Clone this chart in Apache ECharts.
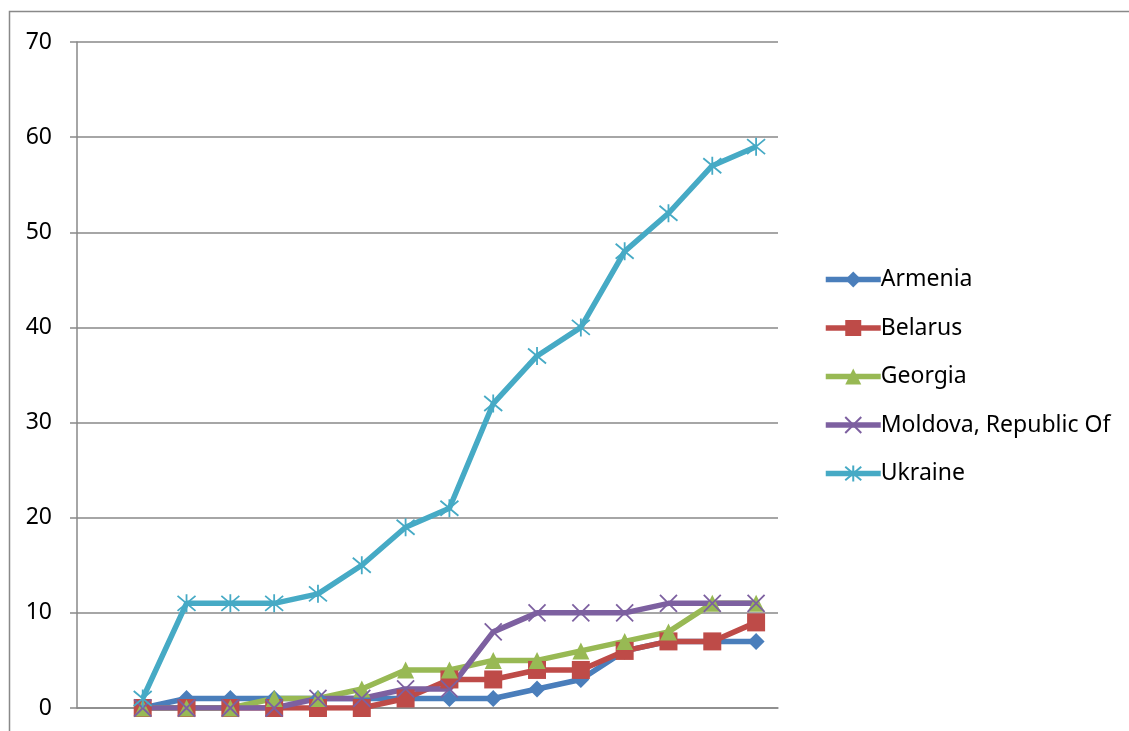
<!DOCTYPE html>
<html>
<head>
<meta charset="utf-8">
<script src="https://cdn.jsdelivr.net/npm/echarts@6/dist/echarts.min.js"></script>
<style>
  html, body { margin: 0; padding: 0; background: #fff; }
  #chart { width: 1129px; height: 731px; }
</style>
</head>
<body>
<div id="chart"></div>
<script>
// categories (axis labels are cut off in the source picture)
var categories = ['0', '1', '2', '3', '4', '5', '6', '7', '8', '9', '10', '11', '12', '13', '14', '15']

// series values, first slot empty like the original
var armenia = [null, 0, 1, 1, 1, 1, 1, 1, 1, 1, 2, 3, 6, 7, 7, 7]
var belarus = [null, 0, 0, 0, 0, 0, 0, 1, 3, 3, 4, 4, 6, 7, 7, 9]
var georgia = [null, 0, 0, 0, 1, 1, 2, 4, 4, 5, 5, 6, 7, 8, 11, 11]
var moldova = [null, 0, 0, 0, 0, 1, 1, 2, 2, 8, 10, 10, 10, 11, 11, 11]
var ukraine = [null, 1, 11, 11, 11, 12, 15, 19, 21, 32, 37, 40, 48, 52, 57, 59]

var yTicks = [0, 10, 20, 30, 40, 50, 60, 70]

var fontFamily = '"Noto Sans", "Open Sans", sans-serif'
var gridColor = '#898989'

function makeSeries(name, data, color, symbol, size, stroke) {
  var s = {
    name: name,
    type: 'line',
    data: data,
    symbol: symbol,
    symbolSize: size,
    showSymbol: true,
    showAllSymbol: true,
    connectNulls: false,
    lineStyle: { color: color, width: 5.5 },
    itemStyle: { color: color }
  }
  if (stroke) {
    s.itemStyle = { color: color, borderColor: color, borderWidth: 1.8 }
  }
  return s
}

var chart = echarts.init(document.getElementById('chart'))

chart.setOption({
  animation: false,
  textStyle: { fontFamily: fontFamily },
  graphic: [{
    type: 'rect',
    shape: { x: 9.5, y: 11.5, width: 1140, height: 740 },
    style: { fill: 'none', stroke: gridColor, lineWidth: 1.5 },
    silent: true
  }],
  grid: { left: 77, top: 42, width: 701, height: 666 },
  legend: {
    orient: 'vertical',
    left: 818,
    top: 263,
    itemWidth: 55,
    itemHeight: 20,
    itemGap: 25.5,
    lineStyle: { width: 5.5 },
    textStyle: { fontSize: 23, lineHeight: 20, color: '#000', fontFamily: fontFamily, padding: [0, 0, 0, -5] },
    data: ['Armenia', 'Belarus', 'Georgia', 'Moldova, Republic Of', 'Ukraine']
  },
  xAxis: {
    type: 'category',
    data: categories,
    boundaryGap: true,
    axisLine: { show: true, lineStyle: { color: gridColor, width: 1.5 } },
    axisTick: { show: false },
    axisLabel: { show: false },
    splitLine: { show: false }
  },
  yAxis: {
    type: 'value',
    min: yTicks[0],
    max: yTicks[yTicks.length - 1],
    interval: 10,
    axisLine: { show: true, lineStyle: { color: gridColor, width: 1.5 } },
    axisTick: { show: true, length: 7, lineStyle: { color: gridColor, width: 1.5 } },
    axisLabel: { margin: 25, fontSize: 23, color: '#000', fontFamily: fontFamily },
    splitLine: { show: true, lineStyle: { color: gridColor, width: 1.5 } }
  },
  series: [
    makeSeries('Armenia', armenia, '#4A7EBB', 'diamond', 17),
    makeSeries('Belarus', belarus, '#BE4B48', 'rect', 18),
    makeSeries('Georgia', georgia, '#98B954', 'triangle', 17),
    makeSeries('Moldova, Republic Of', moldova, '#7D60A0', 'path://M0,0L10,10M10,0L0,10', 17, true),
    makeSeries('Ukraine', ukraine, '#46AAC5', 'path://M0,0L10,10M10,0L0,10M5,-1L5,11', 18, true)
  ]
})
</script>
</body>
</html>
